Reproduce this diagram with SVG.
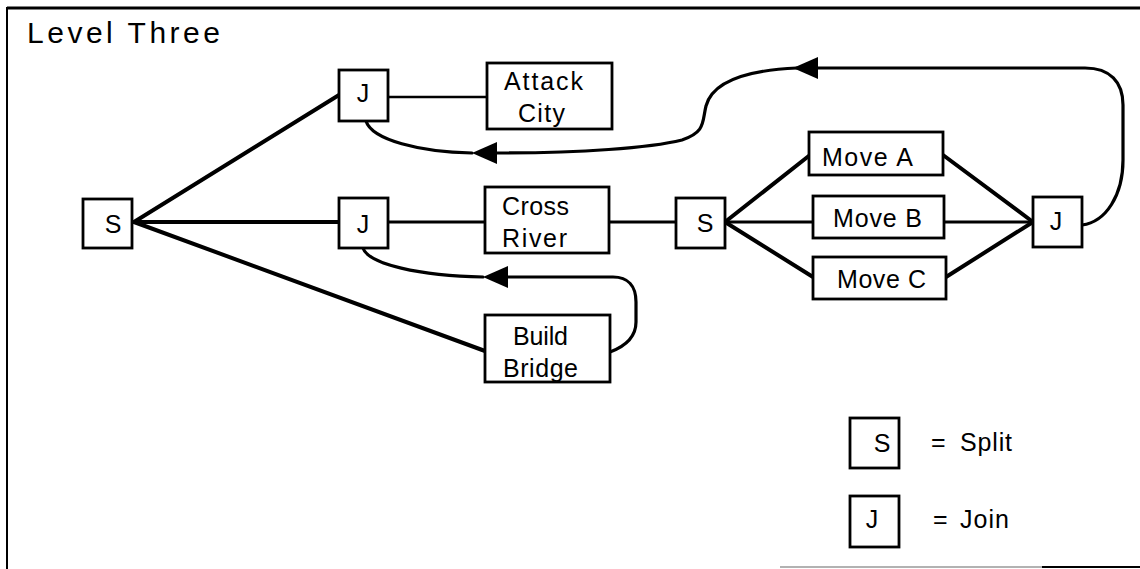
<svg xmlns="http://www.w3.org/2000/svg" width="1140" height="569" viewBox="0 0 1140 569">
<style>
.box{fill:#fff;stroke:#000;stroke-width:2.8}
.t{font-family:"Liberation Sans",Arial,sans-serif;font-size:25px;fill:#000}
.c{text-anchor:middle}
.ln{fill:none;stroke:#000;stroke-linecap:round}
.w4{stroke-width:4}
.w3{stroke-width:3.2}
.w25{stroke-width:2.6}
</style>
<defs>
<marker id="ah" viewBox="0 0 25 22" refX="0" refY="11" markerWidth="25" markerHeight="22" markerUnits="userSpaceOnUse" orient="auto">
<path d="M0,0 L25,11 L0,22 z" fill="#000"/>
</marker>
</defs>
<rect width="1140" height="569" fill="#fff"/>
<g id="frame">
<line x1="7" y1="8" x2="1140" y2="8" stroke="#000" stroke-width="3"/>
<line x1="7" y1="7" x2="7" y2="569" stroke="#000" stroke-width="2"/>
<line x1="780" y1="567" x2="1042" y2="567" stroke="#999" stroke-width="1.5"/>
<line x1="1042" y1="567" x2="1140" y2="567" stroke="#000" stroke-width="2"/>
<text class="t" x="27" y="43" style="font-size:30px" textLength="193" lengthAdjust="spacing">Level Three</text>
</g>
<g id="connectors">
<path class="ln w4" d="M134,222 L339,95"/>
<path class="ln w4" d="M134,222 L339,222"/>
<path class="ln w4" d="M134,222 L485,351"/>
<path class="ln w25" d="M388,97 L487,97"/>
<path class="ln w3" d="M388,222 L485,222"/>
<path class="ln w3" d="M609,222 L676,222"/>
<path class="ln w4" d="M725,222 L810,155"/>
<path class="ln w3" d="M725,222 L813,222"/>
<path class="ln w4" d="M725,222 L813,277"/>
<path class="ln w4" d="M943,155 L1033,222"/>
<path class="ln w3" d="M944,222 L1033,222"/>
<path class="ln w4" d="M946,277 L1033,222"/>
<path class="ln w3" d="M1082,225 C1106,222 1123,195 1123,160 L1123,105 C1123,82 1110,68 1085,68 L818,68" marker-end="url(#ah)"/>
<path class="ln w3" d="M797,68 C752,70 713,80 706,106 C702,122 706,132 682,140 C650,148 580,153 497,153" marker-end="url(#ah)"/>
<path class="ln w3" d="M472,153 C420,152 372,140 366,121"/>
<path class="ln w3" d="M610,352 C626,346 636,336 636,322 L636,302 C636,286 628,277 613,277 L508,277" marker-end="url(#ah)"/>
<path class="ln w3" d="M483,277 C420,276 368,264 363,248"/>
</g>
<g id="S1"><rect class="box" x="83" y="199" width="49" height="49"/><text class="t c" x="113" y="233">S</text></g>
<g id="J1"><rect class="box" x="339" y="70" width="49" height="51"/><text class="t c" x="363" y="102">J</text></g>
<g id="J2"><rect class="box" x="339" y="198" width="49" height="50"/><text class="t c" x="363" y="233">J</text></g>
<g id="attack-city"><rect class="box" x="487" y="63" width="125" height="66"/>
<text class="t" x="504" y="90" textLength="79" lengthAdjust="spacing">Attack</text>
<text class="t" x="518" y="122" textLength="47" lengthAdjust="spacing">City</text></g>
<g id="cross-river"><rect class="box" x="485" y="187" width="124" height="66"/>
<text class="t" x="502" y="215" textLength="67" lengthAdjust="spacing">Cross</text>
<text class="t" x="502" y="247" textLength="65" lengthAdjust="spacing">River</text></g>
<g id="build-bridge"><rect class="box" x="485" y="315" width="125" height="67"/>
<text class="t" x="513" y="345" textLength="55" lengthAdjust="spacing">Build</text>
<text class="t" x="503" y="377" textLength="75" lengthAdjust="spacing">Bridge</text></g>
<g id="S2"><rect class="box" x="676" y="198" width="49" height="50"/><text class="t c" x="705" y="232">S</text></g>
<g id="move-a"><rect class="box" x="809" y="132" width="134" height="43"/>
<text class="t" x="822" y="166" textLength="91" lengthAdjust="spacing">Move A</text></g>
<g id="move-b"><rect class="box" x="813" y="196" width="131" height="42"/>
<text class="t" x="833" y="227" textLength="89" lengthAdjust="spacing">Move B</text></g>
<g id="move-c"><rect class="box" x="813" y="257" width="133" height="42"/>
<text class="t" x="837" y="288" textLength="89" lengthAdjust="spacing">Move C</text></g>
<g id="J3"><rect class="box" x="1033" y="197" width="49" height="50"/><text class="t c" x="1056" y="230">J</text></g>
<g id="legend-split"><rect class="box" x="850" y="418" width="49" height="50"/><text class="t c" x="882" y="452">S</text>
<text class="t" y="451"><tspan x="931">=</tspan><tspan x="960" textLength="52" lengthAdjust="spacing">Split</tspan></text></g>
<g id="legend-join"><rect class="box" x="850" y="496" width="49" height="51"/><text class="t c" x="872" y="528">J</text>
<text class="t" y="528"><tspan x="933">=</tspan><tspan x="960" textLength="49" lengthAdjust="spacing">Join</tspan></text></g>
</svg>
